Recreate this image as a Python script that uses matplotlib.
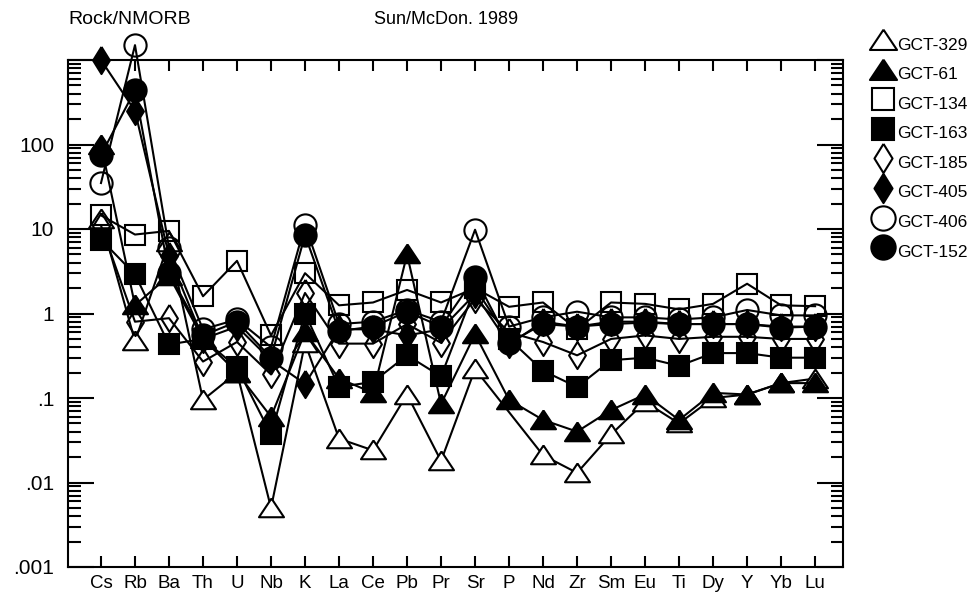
import numpy as np
import matplotlib
matplotlib.use("Agg")
import matplotlib.pyplot as plt
from matplotlib.lines import Line2D
from matplotlib.ticker import FixedLocator, FixedFormatter, LogLocator, NullFormatter

plt.rcParams['font.family'] = ['Liberation Sans', 'DejaVu Sans']

elements = ["Cs", "Rb", "Ba", "Th", "U", "Nb", "K", "La", "Ce", "Pb", "Pr", "Sr",
            "P", "Nd", "Zr", "Sm", "Eu", "Ti", "Dy", "Y", "Yb", "Lu"]

nan = np.nan
gct_329 = [13, 0.47, 7, 0.095, 0.2, 0.005, 0.45, 0.033, 0.024, 0.11, 0.018, 0.22,
           nan, 0.021, 0.013, 0.037, 0.09, 0.05, 0.10, 0.11, 0.15, 0.17]
gct_61 = [100, 1.25, 2.8, 0.5, 0.2, 0.06, 0.6, 0.17, 0.115, 5.0, 0.085, 0.57,
          0.095, 0.055, 0.04, 0.072, 0.11, 0.055, 0.115, 0.11, 0.15, 0.15]
gct_134 = [14.5, 8.6, 9.5, 1.6, 4.2, 0.55, 3.0, 1.25, 1.35, 1.9, 1.35, 2.0,
           1.2, 1.35, 0.65, 1.35, 1.3, 1.12, 1.3, 2.25, 1.25, 1.22]
gct_163 = [7.5, 2.9, 0.43, 0.5, 0.23, 0.037, 1.0, 0.135, 0.155, 0.32, 0.18, 2.0,
           0.5, 0.21, 0.135, 0.28, 0.30, 0.24, 0.34, 0.34, 0.30, 0.30]
gct_185 = [11, 0.8, 0.88, 0.27, 0.46, 0.19, 1.75, 0.44, 0.44, 0.75, 0.45, 1.5,
           0.6, 0.46, 0.32, 0.5, 0.55, 0.5, 0.53, 0.53, 0.5, 0.5]
gct_405 = [1000, 250, 4.8, 0.5, 0.7, 0.28, 0.147, 0.65, 0.65, 0.55, 0.65, 1.7,
           0.43, 0.8, 0.7, 0.8, 0.8, 0.75, 0.75, 0.75, 0.7, 0.7]
gct_406 = [35, 1500, 6, 0.65, 0.85, 0.4, 11.2, 0.75, 0.8, 1.1, 0.8, 9.8,
           0.7, 0.9, 1.05, 0.9, 0.9, 0.85, 0.9, 1.1, 0.95, 0.95]
gct_152 = [75, 440, 3.0, 0.55, 0.8, 0.3, 8.5, 0.62, 0.7, 1.05, 0.7, 2.7,
           0.45, 0.75, 0.7, 0.75, 0.78, 0.75, 0.75, 0.75, 0.68, 0.7]

sample_names = ["GCT-329", "GCT-61", "GCT-134", "GCT-163", "GCT-185", "GCT-405", "GCT-406", "GCT-152"]
sample_values = [gct_329, gct_61, gct_134, gct_163, gct_185, gct_405, gct_406, gct_152]

tri = [(0, 0.8), (-1, -0.7), (1, -0.7), (0, 0.8)]
dia = [(0, 1), (0.62, 0), (0, -1), (-0.62, 0), (0, 1)]
styles = [
    dict(marker=tri, ms=18, mfc='white'),
    dict(marker=tri, ms=18, mfc='black'),
    dict(marker='s', ms=15, mfc='none'),
    dict(marker='s', ms=15, mfc='black'),
    dict(marker=dia, ms=19.5, mfc='none'),
    dict(marker=dia, ms=19.5, mfc='black'),
    dict(marker='o', ms=16, mfc='none'),
    dict(marker='o', ms=16, mfc='black'),
]

W, H = 978, 601
fig = plt.figure(figsize=(W/100, H/100), dpi=100)
ax = fig.add_axes([68/W, 1-567/H, (843-68)/W, (567-60)/H])

x_all = np.arange(len(elements))
for name, vals, st in zip(sample_names, sample_values, styles):
    v = np.array(vals, dtype=float)
    m = ~np.isnan(v)
    ax.plot(x_all[m], v[m], color='black', lw=1.5, marker=st['marker'], ms=st['ms'],
            mfc=st['mfc'], mec='black', mew=1.5, clip_on=False, label=name)

ax.set_yscale('log')
ax.set_ylim(0.001, 1000)
ax.set_xlim(-0.97, len(elements) - 1 + 0.82)

ax.yaxis.set_major_locator(FixedLocator([0.001, 0.01, 0.1, 1, 10, 100, 1000]))
ax.yaxis.set_major_formatter(FixedFormatter([".001", ".01", ".1", "1", "10", "100", ""]))
ax.yaxis.set_minor_locator(LogLocator(base=10, subs=np.arange(2, 10), numticks=20))
ax.yaxis.set_minor_formatter(NullFormatter())
ax.set_xticks(x_all)
ax.set_xticklabels(elements)

ax.tick_params(axis='y', which='major', direction='in', length=19, width=1.5,
               left=True, right=True, labelsize=15, pad=10)
ax.tick_params(axis='y', which='minor', direction='in', length=9, width=1.5,
               left=True, right=True)
ax.tick_params(axis='x', which='major', direction='in', length=8, width=1.5,
               top=True, bottom=True, labelsize=13.5, pad=6)
for s in ax.spines.values():
    s.set_linewidth(1.5)

fig.text(68/W, 1-19/H, "Rock/NMORB", fontsize=14, ha='left', va='center')
fig.text(446/W, 1-19/H, "Sun/McDon. 1989", fontsize=13, ha='center', va='center')

# legend drawn manually in figure coordinates
for i, (name, st) in enumerate(zip(sample_names, styles)):
    yc = 40 + i * 29.6
    fig.add_artist(Line2D([883/W], [1-yc/H], transform=fig.transFigure, ls='none',
                          marker=st['marker'], ms=st['ms'] + 1.5, mfc=st['mfc'],
                          mec='black', mew=1.5))
    fig.text(897/W, 1-(yc + 5)/H, name, fontsize=12.5, ha='left', va='center')

fig.savefig("out.png", dpi=100)
